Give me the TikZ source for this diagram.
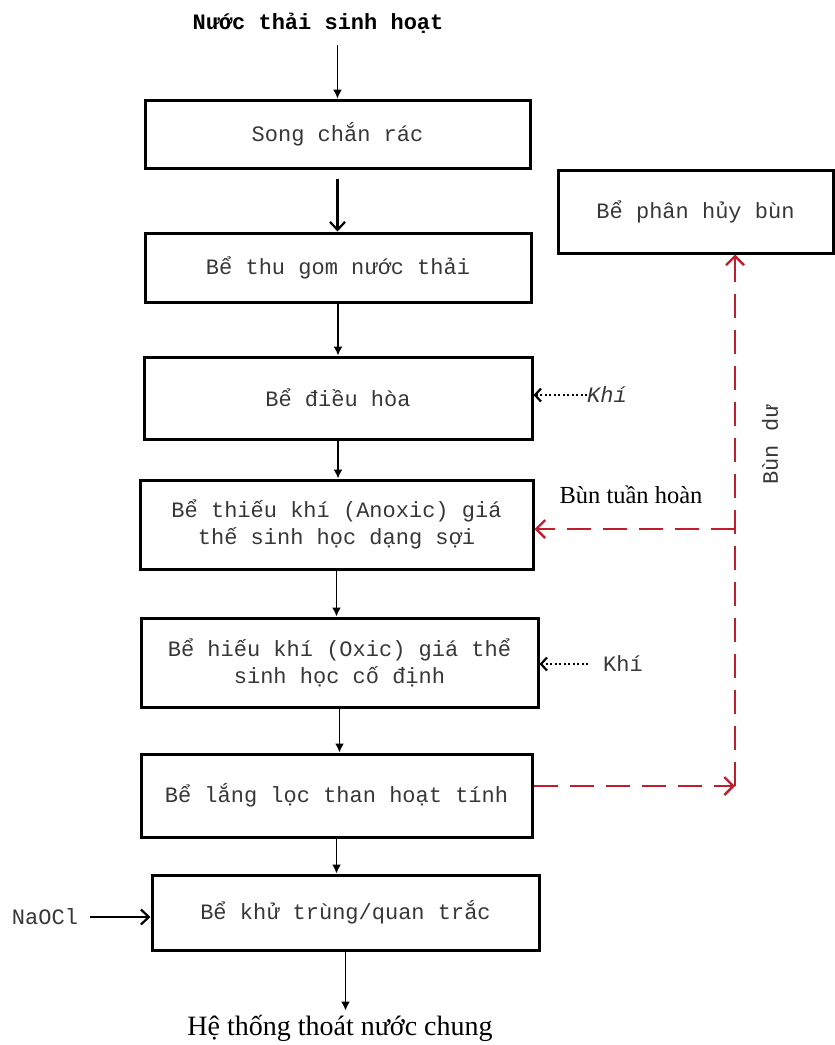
\documentclass[tikz,border=0pt]{standalone}
\usepackage{fontspec}
\usetikzlibrary{arrows.meta}
\newfontfamily\boxfont{Liberation Mono}
\newfontfamily\labelfont{Liberation Serif}
\definecolor{sludgered}{RGB}{190,30,45}
\definecolor{textgrey}{RGB}{55,55,55}

\begin{document}
\begin{tikzpicture}
[x=1pt,y=-1pt,
 boxdecorate/.style={shape=rectangle,draw,line width=3pt,inner sep=0pt,align=center,
   text=textgrey,font=\boxfont\fontsize{22}{27}\selectfont},%
 monotext/.style={inner sep=0pt,text=textgrey,font=\boxfont\fontsize{22}{24}\selectfont},%
 linedecorate/.style={line width=1.6pt,-{Latex[length=9pt,width=9pt]}},%
 barbdecorate/.style={line width=2.2pt,-{Straight Barb[length=8pt,width=15pt,line width=2.2pt]}},%
 airdecorate/.style={line width=2pt,dash pattern=on 2pt off 2.5pt,
   -{Straight Barb[length=6pt,width=13pt,line width=2.2pt]}},%
 sludgedecorate/.style={sludgered,line width=2.6pt,dash pattern=on 24pt off 12pt,
   -{Straight Barb[length=9pt,width=18pt,line width=2.4pt]}}]
\useasboundingbox (0,0) rectangle (835,1045);
%% treatment tanks
\foreach \nodename/\x/\y/\w/\h/\nodetext in {
  songchan/337.5/134/385/68/{Song chắn rác},
  thugom/338/267.5/386/69/{Bể thu gom nước thải},
  dieuhoa/338/398/388/82/{Bể điều hòa},
  thieukhi/336.5/524.5/393/89/{Bể thiếu khí (Anoxic) giá\\thế sinh học dạng sợi},
  hieukhi/339.5/662.5/397/89/{Bể hiếu khí (Oxic) giá thể\\sinh học cố định},
  langloc/336.5/795.5/391/83/{Bể lắng lọc than hoạt tính},
  khutrung/345.5/912.5/387/75/{Bể khử trùng/quan trắc}}
{
  \node (\nodename) at (\x,\y) [boxdecorate,minimum width=\w pt,minimum height=\h pt] {\nodetext};
}
\node (phanhuy) at (695.5,211.5) [boxdecorate,minimum width=275pt,minimum height=83pt] {Bể phân hủy bùn};
%% inputs and outputs
\node (source) at (318,23) [monotext,text=black,font=\boxfont\bfseries\fontsize{22}{24}\selectfont] {Nước thải sinh hoạt};
\node (drain) at (340,1035) [anchor=base,inner sep=4pt,font=\labelfont\fontsize{28}{30}\selectfont] {Hệ thống thoát nước chung};
\node (naocl) at (45,917) [monotext] {NaOCl};
\node (airA) at (607,395) [monotext,font=\boxfont\itshape\fontsize{22}{24}\selectfont] {Khí};
\node (airB) at (623,664) [monotext] {Khí};
\node (recycle) at (631,495) [inner sep=0pt,font=\labelfont\fontsize{24.5}{26}\selectfont] {Bùn tuần hoàn};
\node (excess) at (770,445) [monotext,rotate=90] {Bùn dư};
\coordinate (split) at (735,529);
\coordinate (bend) at (735,786);
%% main flow
\draw[linedecorate,line width=1.2pt] (source.south -| songchan.north) ++(0,12) -- (songchan.north);
\draw[barbdecorate] (songchan.south) ++(0,9) -- (songchan.south |- thugom.north);
\path
\foreach \startnode/\endnode in {thugom/dieuhoa, dieuhoa/thieukhi,
  thieukhi/hieukhi, hieukhi/langloc, langloc/khutrung}
{
  (\startnode.south) edge[linedecorate] (\startnode.south |- \endnode.north)
};
\draw[linedecorate] (khutrung.south) -- (khutrung.south |- drain.north);
%% side streams
\draw[barbdecorate,shorten <=12pt] (naocl.east) -- (naocl.east -| khutrung.west);
\draw[airdecorate] (airA.west) -- (airA.west -| dieuhoa.east);
\draw[airdecorate,shorten <=15pt] (airB.west) -- (airB.west -| hieukhi.east);
%% sludge lines
\draw[sludgedecorate] (bend -| langloc.east) -- (bend);
\draw[sludgedecorate] (bend) -- (bend |- phanhuy.south);
\draw[sludgedecorate] (split) -- (split -| thieukhi.east);
\end{tikzpicture}
\end{document}
